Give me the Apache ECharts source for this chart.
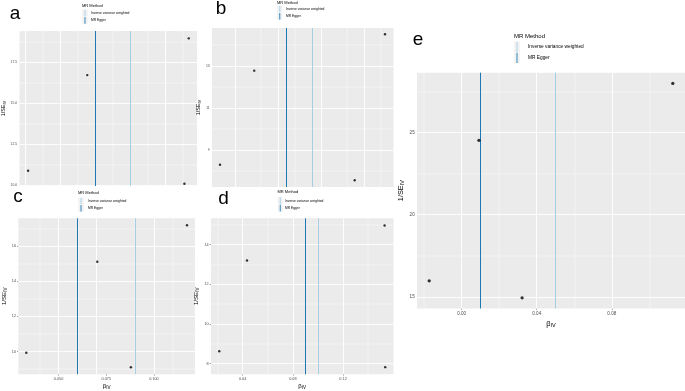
<!DOCTYPE html>
<html>
<head>
<meta charset="UTF-8">
<script src="https://cdn.jsdelivr.net/npm/echarts/dist/echarts.min.js"></script>
</head>
<body style="margin:0;padding:0;background:#fff">
<div id="main" style="width:685px;height:391px;"></div>
<script>
// funnel plots: beta_IV (x) against 1/SE_IV (y) for each SNP, one panel per exposure
var aBeta = [0.0014, 0.0352, 0.0932, 0.0907];
var aInvSE = [10.87, 16.71, 18.95, 10.08];
var bBeta = [-0.0174, 0.0224, 0.1744, 0.1392];
var bInvSE = [8.30, 12.78, 14.51, 7.56];
var cBeta = [0.0331, 0.0703, 0.0879, 0.1173];
var cInvSE = [9.93, 15.12, 9.10, 17.20];
var dBeta = [0.0214, 0.0435, 0.1531, 0.1536];
var dInvSE = [8.62, 13.20, 14.97, 7.82];
var eBeta = [-0.0173, 0.0092, 0.0322, 0.1125];
var eInvSE = [15.97, 24.52, 14.94, 27.98];

// MR estimates drawn as vertical lines, panels a..e
var ivwBeta = [0.0607, 0.0942, 0.0869, 0.0995, 0.0515];
var eggerBeta = [0.0446, 0.0620, 0.0559, 0.0915, 0.0057];

var methods = ['Inverse variance weighted', 'MR Egger'];
var methodColors = ['#a6cee3', '#1f78b4'];

// axis breaks (x breaks of a and b are cut off in the figure)
var aXTicks = [0, 0.02, 0.04, 0.06, 0.08];
var aYTicks = [10, 12.5, 15, 17.5];
var bXTicks = [0, 0.05, 0.10, 0.15];
var bYTicks = [9, 11, 13];
var cXTicks = [0.05, 0.075, 0.1];
var cYTicks = [10, 12, 14, 16];
var dXTicks = [0.04, 0.08, 0.12];
var dYTicks = [8, 10, 12, 14];
var eXTicks = [0, 0.04, 0.08];
var eYTicks = [15, 20, 25];

var FONT = '"Liberation Sans", Arial, sans-serif';

var panels = [
    {tag: 'a', x: aBeta, y: aInvSE, xt: aXTicks, yt: aYTicks, xr: [-0.0035, 0.0979], yr: [9.94, 19.4],
        box: [16, 31, 181, 155], showX: false, xd: 2, yd: 1, fs: 3.4, nameGapY: 8.5, sym: 2.4,
        letter: [15, 13.3], lg: {x: 82, ty: 6, ky: 9.5, kh: 7.3, kw: 6, tx: 91, tf: 4, ef: 3.3}},
    {tag: 'b', x: bBeta, y: bInvSE, xt: bXTicks, yt: bYTicks, xr: [-0.0267, 0.1843], yr: [7.24, 14.81],
        box: [212, 28, 181.5, 159], showX: false, xd: 2, yd: 0, fs: 3.4, nameGapY: 8.5, sym: 2.4,
        letter: [221, 9.2], lg: {x: 277, ty: 2.7, ky: 5.5, kh: 7.2, kw: 5.5, tx: 286, tf: 4, ef: 3.3}},
    {tag: 'c', x: cBeta, y: cInvSE, xt: cXTicks, yt: cYTicks, xr: [0.0289, 0.1215], yr: [8.70, 17.6],
        box: [12.7, 218.3, 182.3, 159.7], showX: true, xd: 3, yd: 0, fs: 3.8, nameGapY: 7, nameGapX: 8, sym: 2.4,
        letter: [18, 196.7], lg: {x: 78, ty: 193, ky: 197.5, kh: 7.2, kw: 6, tx: 88, tf: 4, ef: 3.3}},
    {tag: 'd', x: dBeta, y: dInvSE, xt: dXTicks, yt: dYTicks, xr: [0.0148, 0.1602], yr: [7.46, 15.33],
        box: [211, 218.3, 182.5, 160.7], showX: true, xd: 2, yd: 0, fs: 3.8, nameGapY: 8, nameGapX: 8, sym: 2.4,
        letter: [223.5, 199], lg: {x: 277.5, ty: 192, ky: 197, kh: 7.4, kw: 5.5, tx: 285, tf: 4, ef: 3.3}},
    {tag: 'e', x: eBeta, y: eInvSE, xt: eXTicks, yt: eYTicks, xr: [-0.0238, 0.119], yr: [14.29, 28.63],
        box: [417, 72.7, 268, 235.8], showX: true, xd: 2, yd: 0, fs: 4.6, nameGapY: 9, nameGapX: 10.5, sym: 3.3,
        letter: [418, 39.5], lg: {x: 514, ty: 36, ky: 41.5, kh: 10.9, kw: 6, tx: 528, tf: 6, ef: 4.8}}
];

// ggplot style minor breaks: halfway between majors
function minorBreaks(t, r) {
    var step = t[1] - t[0], out = [];
    for (var v = t[0] - step / 2; v <= r[1]; v += step) {
        if (v >= r[0]) out.push(+v.toFixed(6));
    }
    return out;
}

function inRange(t, r) {
    return t.filter(function (v) { return v >= r[0] && v <= r[1]; });
}

var grids = [], xAxes = [], yAxes = [], series = [], graphics = [];

panels.forEach(function (p, i) {
    grids.push({
        left: p.box[0], top: p.box[1], width: p.box[2], height: p.box[3],
        show: true, backgroundColor: '#ebebeb', borderWidth: 0, containLabel: false
    });
    var nameFs = p.fs * 1.6;
    var rich = {
        m: {fontSize: nameFs, fontFamily: FONT, color: '#000'},
        s: {fontSize: nameFs * 0.75, fontFamily: FONT, color: '#000', padding: [nameFs * 0.45, 0, 0, 0]}
    };
    xAxes.push({
        type: 'value', gridIndex: i, min: p.xr[0], max: p.xr[1],
        axisLine: {show: false}, splitLine: {show: false},
        axisTick: {show: p.showX, length: 1.3, lineStyle: {color: '#333', width: 0.5}, customValues: p.xt},
        axisLabel: {
            show: p.showX, customValues: p.xt, fontSize: p.fs, color: '#4d4d4d', margin: 2.3, fontFamily: FONT,
            formatter: function (v) { return v.toFixed(p.xd); }
        },
        name: p.showX ? '{m|β}{s|IV}' : '', nameLocation: 'middle', nameGap: p.nameGapX || 10,
        nameTextStyle: {rich: rich}
    });
    yAxes.push({
        type: 'value', gridIndex: i, min: p.yr[0], max: p.yr[1],
        axisLine: {show: false}, splitLine: {show: false},
        axisTick: {show: true, length: 1.3, lineStyle: {color: '#333', width: 0.5}, customValues: p.yt},
        axisLabel: {
            customValues: p.yt, fontSize: p.fs, color: '#4d4d4d', margin: 2.3, fontFamily: FONT,
            formatter: function (v) { return v.toFixed(p.yd); }
        },
        name: '{m|1/SE}{s|IV}', nameLocation: 'middle', nameGap: p.nameGapY,
        nameTextStyle: {rich: rich}
    });

    // panel grid lines
    var gl = [];
    inRange(p.xt, p.xr).forEach(function (v) { gl.push({xAxis: v, lineStyle: {color: '#fff', width: 0.9, type: 'solid'}}); });
    inRange(p.yt, p.yr).forEach(function (v) { gl.push({yAxis: v, lineStyle: {color: '#fff', width: 0.9, type: 'solid'}}); });
    minorBreaks(p.xt, p.xr).forEach(function (v) { gl.push({xAxis: v, lineStyle: {color: '#fff', width: 0.45, type: 'solid'}}); });
    minorBreaks(p.yt, p.yr).forEach(function (v) { gl.push({yAxis: v, lineStyle: {color: '#fff', width: 0.45, type: 'solid'}}); });
    series.push({
        type: 'scatter', xAxisIndex: i, yAxisIndex: i, data: [], silent: true, z: 1,
        markLine: {symbol: ['none', 'none'], silent: true, z: 1, animation: false, label: {show: false},
            emphasis: {disabled: true}, data: gl}
    });

    // MR estimate lines
    var est = [ivwBeta[i], eggerBeta[i]];
    series.push({
        type: 'scatter', xAxisIndex: i, yAxisIndex: i, data: [], silent: true, z: 2,
        markLine: {symbol: ['none', 'none'], silent: true, z: 2, animation: false, label: {show: false},
            emphasis: {disabled: true},
            data: est.map(function (v, k) {
                return {name: methods[k], xAxis: v, lineStyle: {color: methodColors[k], width: 1, type: 'solid'}};
            })}
    });

    series.push({
        type: 'scatter', xAxisIndex: i, yAxisIndex: i, z: 3, silent: true, animation: false,
        symbolSize: p.sym, itemStyle: {color: '#000'},
        data: p.x.map(function (v, k) { return [v, p.y[k]]; })
    });

    // panel letter
    graphics.push({
        type: 'text', x: p.letter[0], y: p.letter[1],
        style: {text: p.tag, fontSize: 19, fontFamily: FONT, fill: '#000', textAlign: 'center', textVerticalAlign: 'middle'}
    });

    // legend "MR Method"
    var L = p.lg;
    graphics.push({
        type: 'text', x: L.x, y: L.ty,
        style: {text: 'MR Method', fontSize: L.tf, fontFamily: FONT, fill: '#000', textAlign: 'left', textVerticalAlign: 'middle'}
    });
    methods.forEach(function (m, k) {
        var top = L.ky + k * L.kh;
        graphics.push({type: 'rect', shape: {x: L.x, y: top, width: L.kw, height: L.kh},
            style: {fill: '#f2f2f2', stroke: '#fff', lineWidth: 0.4}});
        graphics.push({type: 'line', shape: {x1: L.x + L.kw / 2, y1: top + 0.3, x2: L.x + L.kw / 2, y2: top + L.kh - 0.3},
            style: {stroke: methodColors[k], lineWidth: 0.9}});
        graphics.push({type: 'text', x: L.tx, y: top + L.kh / 2,
            style: {text: m, fontSize: L.ef, fontFamily: FONT, fill: '#000', textAlign: 'left', textVerticalAlign: 'middle'}});
    });
});

var chart = echarts.init(document.getElementById('main'));
chart.setOption({
    backgroundColor: '#fff',
    animation: false,
    grid: grids,
    xAxis: xAxes,
    yAxis: yAxes,
    series: series,
    graphic: graphics
});
</script>
</body>
</html>
